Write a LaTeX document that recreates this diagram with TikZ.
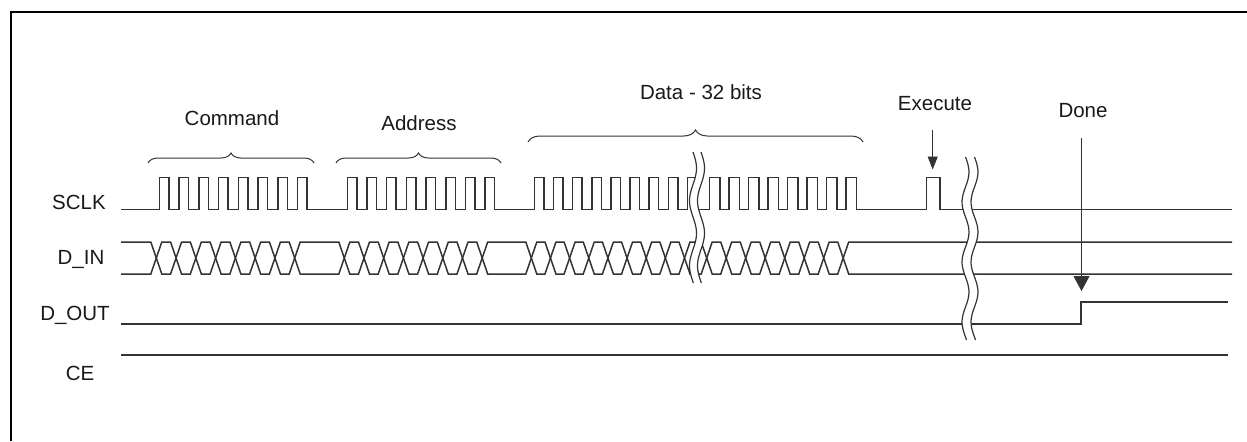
\documentclass[tikz,border=0pt]{standalone}
\usepackage{fontspec}
\setmainfont{Liberation Sans}
\usetikzlibrary{arrows.meta,decorations.pathreplacing}

\tikzset{
  sig/.style={line width=0.75pt, draw=black!80, line join=miter},
  tag/.style={font=\fontsize{10.25}{12}\selectfont, text=black!90, inner sep=0pt},
  hint/.style={line width=0.45pt, draw=black!80, fill=black!80},
  grp/.style={decorate, decoration={brace, amplitude=#1}, line width=0.5pt, draw=black!80},
  grp/.default=5pt
}

% break mark: x, top y, bottom y, gap, wave length
\newcommand{\cutmark}[5]{%
  \fill[white] plot[smooth, samples=30, variable=\t, domain=#2:#3] ({#1-#4/2+3.5*sin((\t-#2)/#5*360)},\t)
    -- plot[smooth, samples=30, variable=\t, domain=#3:#2] ({#1+#4/2+3.5*sin((\t-#2)/#5*360)},\t) -- cycle;
  \draw[sig, line width=0.6pt] plot[smooth, samples=30, variable=\t, domain=#2:#3] ({#1-#4/2+3.5*sin((\t-#2)/#5*360)},\t);
  \draw[sig, line width=0.6pt] plot[smooth, samples=30, variable=\t, domain=#2:#3] ({#1+#4/2+3.5*sin((\t-#2)/#5*360)},\t);
}

\begin{document}
\begin{tikzpicture}[x=0.5pt, y=-0.5pt]

  \useasboundingbox (0,0) rectangle (1247,441);

  % --- Frame ---
  \draw[line width=1pt] (11,441) -- (11,12) -- (1247,12);

  % --- Signal names ---
  \node[tag, anchor=base] (sclk) at (79,209) {SCLK};
  \node[tag, anchor=base] (din)  at (81,264) {D\_IN};
  \node[tag, anchor=base] (dout) at (75,320) {D\_OUT};
  \node[tag, anchor=base] (ce)   at (80,380) {CE};

  % --- Phase names and braces ---
  \node[tag] (cmd)  at (232,118) {Command};
  \node[tag] (addr) at (419,123) {Address};
  \node[tag] (data) at (701,92)  {Data - 32 bits};
  \node[tag] (exec) at (935,104) {Execute};
  \node[tag] (done) at (1083,111) {Done};

  \draw[grp] (148,163) -- (314,163);
  \draw[grp] (336,163) -- (501,163);
  \draw[grp=6pt] (528,142) -- (863,142);

  % --- SCLK ---
  \draw[sig] (121,209.5)
    foreach \k in {0,...,7}{ -- ({159.3+19.77*\k},209.5) -- ++(0,-32) -- ++(9.5,0) -- ++(0,32) }
    foreach \k in {0,...,7}{ -- ({347.3+19.7*\k},209.5) -- ++(0,-32) -- ++(9.5,0) -- ++(0,32) }
    foreach \k in {0,...,8}{ -- ({534.3+19.15*\k},209.5) -- ++(0,-32) -- ++(9.5,0) -- ++(0,32) };
  \draw[sig] (698,209.5)
    foreach \k in {0,...,7}{ -- ({709.7+19.5*\k},209.5) -- ++(0,-32) -- ++(10.5,0) -- ++(0,32) }
    -- (926.7,209.5) -- ++(0,-32) -- ++(13.3,0) -- ++(0,32) -- (1232,209.5);

  % --- D_IN ---
  \foreach \s in {1,-1}{
    \draw[sig] (121,{258-16*(\s)})
      foreach \k in {0,...,7}{ -- ({150.8+19.77*\k},{258-16*(\s)*cos(180*\k)}) -- ({161.8+19.77*\k},{258+16*(\s)*cos(180*\k)}) }
      foreach \k in {0,...,7}{ -- ({338.8+19.7*\k},{258-16*(\s)*cos(180*\k)}) -- ({349.8+19.7*\k},{258+16*(\s)*cos(180*\k)}) }
      foreach \k in {0,...,8}{ -- ({525.8+19.15*\k},{258-16*(\s)*cos(180*\k)}) -- ({536.8+19.15*\k},{258+16*(\s)*cos(180*\k)}) }
      -- ++(10,0);
    \draw[sig] (694,{258-16*(\s)})
      foreach \k in {0,...,7}{ -- ({701.2+19.5*\k},{258-16*(\s)*cos(180*\k)}) -- ({712.2+19.5*\k},{258+16*(\s)*cos(180*\k)}) }
      -- (1232,{258-16*(\s)});
  }

  % --- D_OUT and CE ---
  \draw[sig] (121,324) -- (1081,324) -- (1081,302) -- (1228,302);
  \draw[sig] (121,355) -- (1228,355);

  % --- Breaks ---
  \cutmark{697}{152}{283}{8}{65}
  \cutmark{970}{157}{340}{9}{60}

  % --- Markers ---
  \coordinate (exectop) at (932.7,130);
  \coordinate (exectip) at (932.7,169.5);
  \coordinate (donetop) at (1081.5,138);
  \coordinate (donetip) at (1081.5,291);
  \draw[hint, -{Triangle[length=6.5pt, width=5pt]}] (exectop) -- (exectip);
  \draw[hint, -{Triangle[length=7.5pt, width=8pt]}] (donetop) -- (donetip);

\end{tikzpicture}
\end{document}
